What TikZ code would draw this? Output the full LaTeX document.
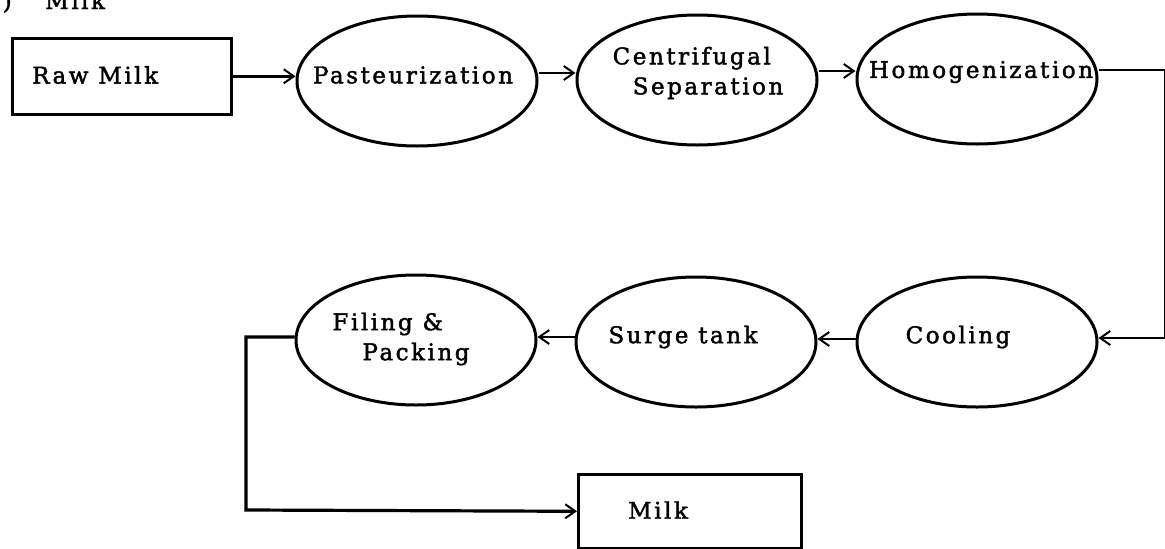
\documentclass[tikz,border=0pt]{standalone}
\usepackage{fontspec}
\setmainfont{DejaVu Serif}[LetterSpace=11,FakeBold=1.8]
\usetikzlibrary{arrows.meta,shapes.geometric,calc}
\begin{document}
\begin{tikzpicture}[x=1pt,y=-1pt,
  every node/.style={font=\fontsize{23}{30}\selectfont},
  stage/.style={draw, ellipse, line width=3pt, minimum width=240pt,
    minimum height=130pt, inner sep=0pt},
  endbox/.style={draw, rectangle, line width=2.6pt, inner sep=0pt, anchor=north west},
  flow/.style={line width=2.8pt,
    -{Straight Barb[length=10pt,width=14pt,line width=2pt]}}]
\useasboundingbox (0,0) rectangle (1165,549);

% heading, mostly above the page edge
\node[anchor=base east, inner sep=0pt] (headA) at (12,9) {b)};
\node[anchor=base west, inner sep=0pt] (headB) at (45,9) {Milk};

% upper process line
\node[endbox, minimum width=219pt, minimum height=76pt] (raw) at (11,37) {};
\node[anchor=west, inner sep=0pt] (rawT) at (32,75) {Raw Milk};

\node[stage] (past) at (417,81) {};
\node (pastT) at (413,75) {Pasteurization};

\node[stage] (cent) at (697,80) {};
\node[align=left] (centT) at (698,73) {Centrifugal\\\hspace*{20pt}Separation};

\node[stage] (homo) at (977,79) {};
\node (homoT) at (981,72) {Homogenization};

% lower process line
\node[stage] (cool) at (977,342) {};
\node (coolT) at (958,337) {Cooling};

\node[stage] (surge) at (696,342) {};
\node (surgeT) at (683,337) {Surge tank};

\node[stage] (fill) at (416,340) {};
\node[align=left] (fillT) at (401,339) {Filing \&\\\hspace*{30pt}Packing};

\node[endbox, minimum width=223pt, minimum height=74pt] (milk) at (577,473) {};
\node (milkT) at (658,510) {Milk};

% return path on the right edge
\coordinate (rt) at (1165,70);
\coordinate (rb) at (1165,338);
% bend towards the product box
\coordinate (lb) at (246,510);

% connectors
\draw[flow] (raw.east) -- (raw.east -| past.west);
\draw[flow] ([yshift=8pt]past.east) -- ([yshift=8pt]past.east -| cent.west);
\draw[flow] ([yshift=9pt]cent.east) -- ([yshift=9pt]cent.east -| homo.west);
\draw[flow] ([yshift=9pt]homo.east) -- (rt) -- (rb) -- (rb -| cool.east);
\draw[flow] ([yshift=3pt]cool.west) -- ([yshift=3pt]cool.west -| surge.east);
\draw[flow] ([yshift=5pt]surge.west) -- ([yshift=5pt]surge.west -| fill.east);
\draw[flow, line width=3.2pt] ([yshift=3pt]fill.west) -| (lb) -- (milk.west);
\end{tikzpicture}
\end{document}
